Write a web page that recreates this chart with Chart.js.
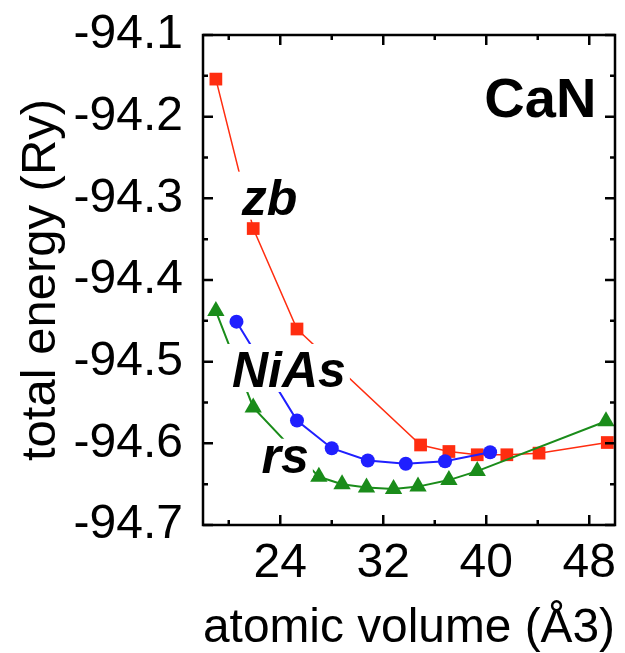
<!DOCTYPE html>
<html>
<head>
<meta charset="utf-8">
<script src="https://cdn.jsdelivr.net/npm/chart.js@4.4.0/dist/chart.umd.min.js"></script>
<style>
html, body { margin: 0; padding: 0; background: #fff; }
#wrap { width: 625px; height: 653px; }
</style>
</head>
<body>
<div id="wrap"><canvas id="energyChart" width="625" height="653"></canvas></div>
<script>
// atomic volume (Å3) vs total energy (Ry)
const zbVolume = [19.0, 21.9, 25.3, 34.9, 37.1, 39.3, 41.6, 44.1, 49.4];
const zbEnergy = [-94.154, -94.337, -94.460, -94.602, -94.610, -94.614, -94.614, -94.612, -94.599];

const niasVolume = [20.6, 25.3, 28.0, 30.8, 33.75, 36.8, 40.3];
const niasEnergy = [-94.451, -94.572, -94.606, -94.621, -94.625, -94.622, -94.611];

const rsVolume = [19.0, 21.9, 27.0, 28.8, 30.7, 32.8, 34.7, 37.1, 39.3, 49.3];
const rsEnergy = [-94.438, -94.556, -94.641, -94.650, -94.654, -94.656, -94.653, -94.645, -94.634, -94.573];

const xMajorTicks = [24, 32, 40, 48];
const xMinorTicks = [20, 28, 36, 44];
const yMajorTicks = [-94.1, -94.2, -94.3, -94.4, -94.5, -94.6, -94.7];
const yMinorTicks = [-94.15, -94.25, -94.35, -94.45, -94.55, -94.65];

// phase labels, anchored in data coordinates
const phaseLabels = [
    { text: 'zb',   x: 21.0,  y: -94.320, font: 'italic bold 50px "Liberation Sans", Arial, sans-serif', box: true },
    { text: 'NiAs', x: 20.25, y: -94.531, font: 'italic bold 50px "Liberation Sans", Arial, sans-serif', box: true },
    { text: 'rs',   x: 22.55, y: -94.636, font: 'italic bold 50px "Liberation Sans", Arial, sans-serif', box: true },
    { text: 'CaN',  x: 39.85, y: -94.200, font: 'bold 56px "Liberation Sans", Arial, sans-serif', box: false }
];

const FONT = '"Liberation Sans", Arial, Helvetica, sans-serif';

function toPoints(xs, ys) {
    return xs.map((x, i) => ({ x: x, y: ys[i] }));
}

// white-backed text labels over the curves
const labelPlugin = {
    id: 'phaseLabels',
    afterDatasetsDraw(chart) {
        const ctx = chart.ctx;
        const xs = chart.scales.x;
        const ys = chart.scales.y;
        ctx.save();
        phaseLabels.forEach(l => {
            const px = xs.getPixelForValue(l.x);
            const py = ys.getPixelForValue(l.y);
            ctx.font = l.font;
            ctx.textAlign = 'left';
            ctx.textBaseline = 'alphabetic';
            if (l.box) {
                const m = ctx.measureText(l.text);
                ctx.fillStyle = '#ffffff';
                ctx.fillRect(px - 6, py - m.actualBoundingBoxAscent - 7,
                    m.width + 10, m.actualBoundingBoxAscent + 12);
            }
            ctx.fillStyle = '#000000';
            ctx.fillText(l.text, px, py);
        });
        ctx.restore();
    }
};

// box frame with inward ticks on all four sides
const framePlugin = {
    id: 'frameTicks',
    afterDraw(chart) {
        const ctx = chart.ctx;
        const a = chart.chartArea;
        const xs = chart.scales.x;
        const ys = chart.scales.y;
        ctx.save();
        ctx.strokeStyle = '#000';
        ctx.lineWidth = 2.5;
        ctx.beginPath();
        const tick = (v, len, isX) => {
            if (isX) {
                const p = xs.getPixelForValue(v);
                ctx.moveTo(p, a.bottom); ctx.lineTo(p, a.bottom - len);
                ctx.moveTo(p, a.top); ctx.lineTo(p, a.top + len);
            } else {
                const p = ys.getPixelForValue(v);
                ctx.moveTo(a.left, p); ctx.lineTo(a.left + len, p);
                ctx.moveTo(a.right, p); ctx.lineTo(a.right - len, p);
            }
        };
        xMajorTicks.forEach(v => tick(v, 10, true));
        xMinorTicks.forEach(v => tick(v, 5, true));
        yMajorTicks.forEach(v => tick(v, 10, false));
        yMinorTicks.forEach(v => tick(v, 5, false));
        ctx.stroke();
        ctx.strokeRect(a.left, a.top, a.right - a.left, a.bottom - a.top);
        ctx.restore();
    }
};

const ctx = document.getElementById('energyChart').getContext('2d');
const energyChart = new Chart(ctx, {
    type: 'scatter',
    data: {
        datasets: [
            {
                label: 'NiAs',
                data: toPoints(niasVolume, niasEnergy),
                showLine: true,
                borderColor: '#1f1fff',
                backgroundColor: '#1f1fff',
                borderWidth: 2,
                pointStyle: 'circle',
                pointRadius: 7,
                pointBorderWidth: 0,
                clip: false
            },
            {
                label: 'rs',
                data: toPoints(rsVolume, rsEnergy),
                showLine: true,
                borderColor: '#1a8c1a',
                backgroundColor: '#1a8c1a',
                borderWidth: 2,
                pointStyle: 'triangle',
                pointRadius: 10,
                pointBorderWidth: 0,
                clip: false
            },
            {
                label: 'zb',
                data: toPoints(zbVolume, zbEnergy),
                showLine: true,
                borderColor: '#ff2d10',
                backgroundColor: '#ff2d10',
                borderWidth: 1.5,
                pointStyle: 'rect',
                pointRadius: 9,
                pointBorderWidth: 0,
                clip: false
            }
        ]
    },
    options: {
        responsive: false,
        animation: false,
        devicePixelRatio: 1,
        layout: { padding: { top: 35, right: 5, left: 0, bottom: 0 } },
        plugins: {
            legend: { display: false },
            tooltip: { enabled: false }
        },
        scales: {
            x: {
                type: 'linear',
                min: 18,
                max: 50,
                afterBuildTicks: function(scale) {
                    scale.ticks = xMajorTicks.map(v => ({ value: v }));
                },
                afterFit: function(scale) {
                    scale.height = 128;
                    scale.paddingLeft = 0;
                    scale.paddingRight = 0;
                },
                grid: { display: false, drawTicks: false },
                border: { display: false },
                ticks: {
                    color: '#000',
                    padding: 10,
                    maxRotation: 0,
                    font: { family: FONT, size: 48, lineHeight: 1.2 }
                },
                title: {
                    display: true,
                    text: 'atomic volume (Å3)',
                    color: '#000',
                    padding: { top: 0, bottom: 0 },
                    font: { family: FONT, size: 49, lineHeight: 1 }
                }
            },
            y: {
                type: 'linear',
                min: -94.7,
                max: -94.1,
                afterBuildTicks: function(scale) {
                    scale.ticks = yMajorTicks.map(v => ({ value: v }));
                },
                afterFit: function(scale) {
                    scale.width = 203;
                    scale.paddingTop = 0;
                    scale.paddingBottom = 0;
                },
                grid: { display: false, drawTicks: false },
                border: { display: false },
                ticks: {
                    color: '#000',
                    padding: 20,
                    font: { family: FONT, size: 48 },
                    callback: function(value) {
                        return value.toFixed(1);
                    }
                },
                title: {
                    display: true,
                    text: 'total energy (Ry)',
                    color: '#000',
                    padding: { top: 17, bottom: 0 },
                    font: { family: FONT, size: 49, lineHeight: 1 }
                }
            }
        }
    },
    plugins: [labelPlugin, framePlugin]
});
</script>
</body>
</html>
